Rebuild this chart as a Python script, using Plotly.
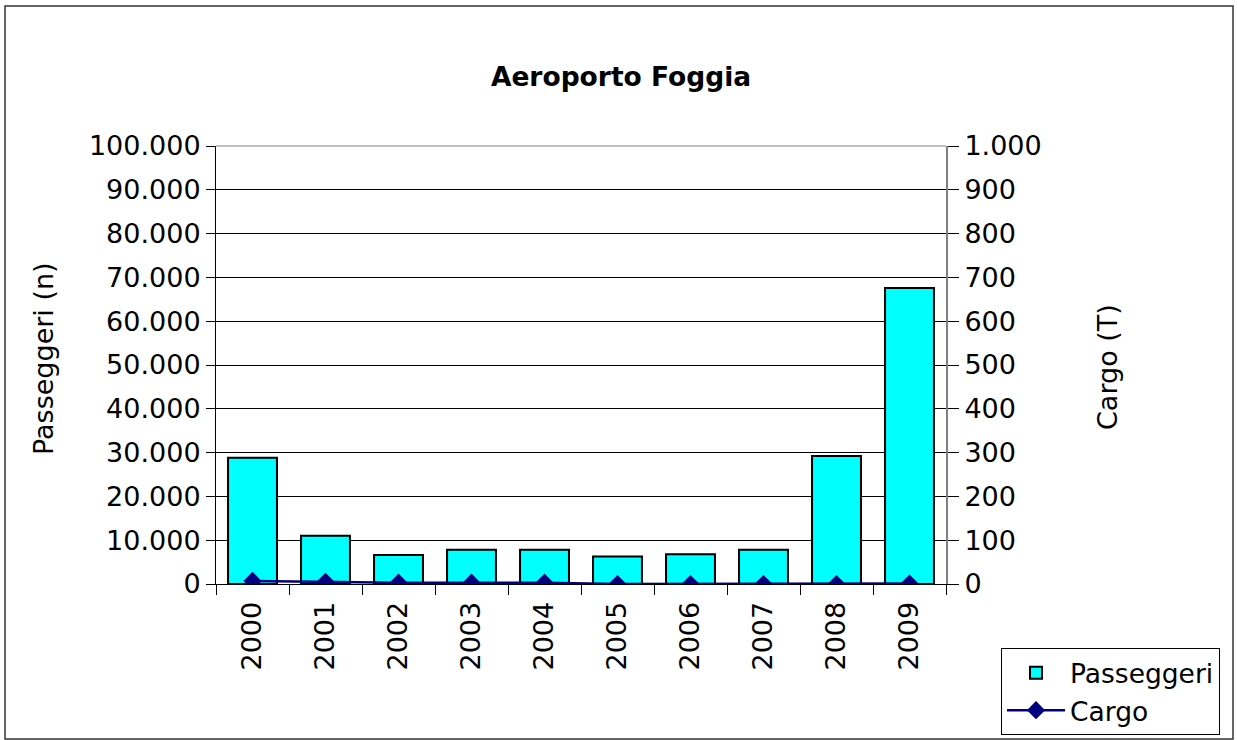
import plotly.graph_objects as go

years = ["2000", "2001", "2002", "2003", "2004", "2005", "2006", "2007", "2008", "2009"]
passeggeri = [28800, 11000, 6600, 7800, 7800, 6300, 6800, 7800, 29200, 67600]
cargo = [7, 5, 3, 3, 3, 0, 0, 0, 0, 1]

FONT = "DejaVu Sans"

fig = go.Figure()
fig.add_trace(go.Bar(
    x=years, y=passeggeri, name="Passeggeri",
    marker=dict(color="#00FFFF", line=dict(color="black", width=2)),
    width=0.67, yaxis="y",
))
fig.add_trace(go.Scatter(
    x=years, y=cargo, name="Cargo", yaxis="y2", mode="lines+markers",
    line=dict(color="#000080", width=2.5),
    marker=dict(symbol="diamond", size=14, color="#000080"),
))

L, R, T, B = 216, 946, 146, 584
W, H = 1237, 740
pw, ph = R - L, B - T

def px(x):
    return (x - L) / pw

def py(y):
    return (B - y) / ph

fig.update_layout(
    width=W, height=H,
    margin=dict(l=L, r=W - R, t=T, b=H - B, autoexpand=False),
    paper_bgcolor="white", plot_bgcolor="white",
    separators=",.",
    font=dict(family=FONT, size=27, color="black"),
    title=dict(text="<b>Aeroporto Foggia</b>", x=621 / W, xanchor="center",
               y=1 - 77 / H, yanchor="middle", font=dict(size=26.5)),
    showlegend=True,
    legend=dict(x=px(1001), y=py(735), xanchor="left", yanchor="bottom",
                bordercolor="black", borderwidth=1, bgcolor="white",
                font=dict(size=26.5), tracegroupgap=0, itemwidth=58),
    xaxis=dict(type="category", range=[-0.5, 9.5], tickangle=-90,
               ticks="outside", ticklen=10, ticklabelstandoff=6,
               tickson="boundaries", tickcolor="black", showgrid=False,
               showline=True, linecolor="black", linewidth=1,
               tickfont=dict(size=27)),
    yaxis=dict(range=[0, 100000], dtick=10000, tickformat=",d",
               showgrid=True, gridcolor="black", gridwidth=1,
               ticks="outside", ticklen=9, tickcolor="black",
               showline=True, linecolor="black", linewidth=1,
               tickfont=dict(size=27), zeroline=False),
    yaxis2=dict(range=[0, 1000], dtick=100, tickformat=",d", overlaying="y",
                side="right", showgrid=False, ticks="outside", ticklen=11,
                tickcolor="black", showline=True, linecolor="gray", linewidth=2,
                tickfont=dict(size=27), zeroline=False),
)

fig.add_annotation(text="Passeggeri (n)", textangle=-90, xref="paper", yref="paper",
                   x=px(43), y=py(359), showarrow=False, font=dict(size=27),
                   xanchor="center", yanchor="middle")
fig.add_annotation(text="Cargo (T)", textangle=-90, xref="paper", yref="paper",
                   x=px(1107), y=py(367), showarrow=False, font=dict(size=27),
                   xanchor="center", yanchor="middle")

# top border of plot area
fig.add_shape(type="line", xref="paper", yref="paper", x0=0, x1=1, y0=1, y1=1,
              line=dict(color="gray", width=1))
# outer chart border
fig.add_shape(type="rect", xref="paper", yref="paper",
              x0=px(5), x1=px(1233), y0=py(6), y1=py(739),
              line=dict(color="#333333", width=1.5), layer="below")

fig.write_html("out.html", config={"displayModeBar": False},
               post_script="document.body.style.margin='0';")
